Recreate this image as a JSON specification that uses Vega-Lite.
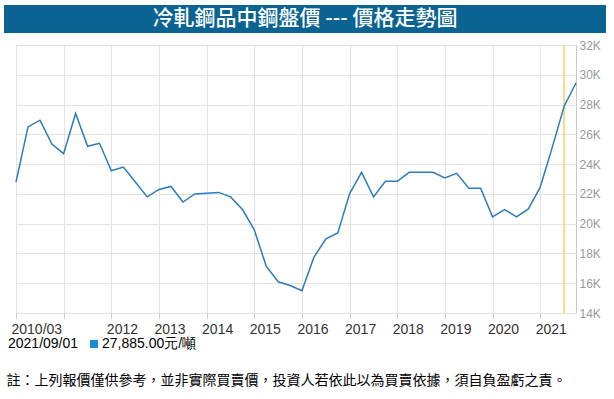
{
  "$schema": "https://vega.github.io/schema/vega-lite/v6.json",
  "padding": {"left": 4, "top": 5, "right": 8, "bottom": 5},
  "background": "white",
  "bounds": "flush",
  "spacing": 12,
  "datasets": {
    "series": [
      {"date": "2010-03-01", "price": 22800},
      {"date": "2010-06-01", "price": 26500},
      {"date": "2010-09-01", "price": 26950},
      {"date": "2010-12-01", "price": 25350},
      {"date": "2011-03-01", "price": 24700},
      {"date": "2011-06-01", "price": 27400},
      {"date": "2011-09-01", "price": 25200},
      {"date": "2011-12-01", "price": 25400},
      {"date": "2012-03-01", "price": 23550},
      {"date": "2012-06-01", "price": 23800},
      {"date": "2012-09-01", "price": 22800},
      {"date": "2012-12-01", "price": 21800},
      {"date": "2013-03-01", "price": 22300},
      {"date": "2013-06-01", "price": 22500},
      {"date": "2013-09-01", "price": 21450},
      {"date": "2013-12-01", "price": 22000},
      {"date": "2014-03-01", "price": 22050},
      {"date": "2014-06-01", "price": 22100},
      {"date": "2014-09-01", "price": 21800},
      {"date": "2014-12-01", "price": 20950},
      {"date": "2015-03-01", "price": 19600},
      {"date": "2015-06-01", "price": 17150},
      {"date": "2015-09-01", "price": 16100},
      {"date": "2015-12-01", "price": 15850},
      {"date": "2016-03-01", "price": 15500},
      {"date": "2016-06-01", "price": 17750},
      {"date": "2016-09-01", "price": 18980},
      {"date": "2016-12-01", "price": 19380},
      {"date": "2017-03-01", "price": 22000},
      {"date": "2017-06-01", "price": 23450},
      {"date": "2017-09-01", "price": 21800},
      {"date": "2017-12-01", "price": 22850},
      {"date": "2018-03-01", "price": 22850},
      {"date": "2018-06-01", "price": 23450},
      {"date": "2018-09-01", "price": 23450},
      {"date": "2018-12-01", "price": 23450},
      {"date": "2019-03-01", "price": 23070},
      {"date": "2019-06-01", "price": 23380},
      {"date": "2019-09-01", "price": 22380},
      {"date": "2019-12-01", "price": 22380},
      {"date": "2020-03-01", "price": 20460},
      {"date": "2020-06-01", "price": 20950},
      {"date": "2020-09-01", "price": 20460},
      {"date": "2020-12-01", "price": 20990},
      {"date": "2021-03-01", "price": 22440},
      {"date": "2021-06-01", "price": 25090},
      {"date": "2021-09-01", "price": 27885},
      {"date": "2021-12-01", "price": 29450}
    ],
    "readout": [
      {"date": "2021-09-01", "price": 27885, "label": "27,885.00元/噸"}
    ]
  },
  "vconcat": [
    {
      "width": 602,
      "height": 28,
      "view": {"fill": "#0b6391", "stroke": null},
      "data": {"values": [{"title": "冷軋鋼品中鋼盤價 --- 價格走勢圖"}]},
      "mark": {"type": "text", "color": "white", "font": "Noto Sans CJK TC", "fontSize": 21, "fontWeight": 500, "baseline": "middle", "align": "center"},
      "encoding": {"text": {"field": "title"}}
    },
    {
      "bounds": "flush",
      "spacing": 0,
      "hconcat": [
        {
          "width": 12,
          "height": 268,
          "view": {"stroke": null},
          "data": {"values": [{"t": ""}]},
          "mark": {"type": "text"},
          "encoding": {"text": {"field": "t"}}
        },
        {
          "width": 560,
          "height": 268,
          "view": {"stroke": "#c8c8c8"},
          "encoding": {
            "x": {
              "field": "date",
              "type": "temporal",
              "scale": {
                "type": "utc",
                "domain": [
                  {"year": 2010, "month": 3, "date": 1, "utc": true},
                  {"year": 2021, "month": 12, "date": 1, "utc": true}
                ]
              },
              "axis": {
                "values": [
                  {"year": 2010, "month": 3, "date": 1, "utc": true},
                  {"year": 2011, "month": 3, "date": 1, "utc": true},
                  {"year": 2012, "month": 3, "date": 1, "utc": true},
                  {"year": 2013, "month": 3, "date": 1, "utc": true},
                  {"year": 2014, "month": 3, "date": 1, "utc": true},
                  {"year": 2015, "month": 3, "date": 1, "utc": true},
                  {"year": 2016, "month": 3, "date": 1, "utc": true},
                  {"year": 2017, "month": 3, "date": 1, "utc": true},
                  {"year": 2018, "month": 3, "date": 1, "utc": true},
                  {"year": 2019, "month": 3, "date": 1, "utc": true},
                  {"year": 2020, "month": 3, "date": 1, "utc": true},
                  {"year": 2021, "month": 3, "date": 1, "utc": true}
                ],
                "labelExpr": "utcFormat(datum.value, '%Y') == '2010' ? '2010/03' : (utcFormat(datum.value, '%Y') == '2011' ? '' : utcFormat(datum.value, '%Y'))",
                "grid": true,
                "gridColor": "#e3e3e3",
                "domain": false,
                "ticks": true,
                "tickColor": "#c8c8c8",
                "tickSize": 5,
                "labelAlign": "left",
                "labelBaseline": "top",
                "labelOffset": -5,
                "labelFlush": false,
                "labelOverlap": false,
                "labelFont": "Liberation Sans",
                "labelFontSize": 14,
                "labelColor": "#333333",
                "labelPadding": 4,
                "title": "註：上列報價僅供參考，並非實際買賣價，投資人若依此以為買賣依據，須自負盈虧之責。",
                "titleX": -10,
                "titleY": 67,
                "titleAnchor": "start",
                "titleAlign": "left",
                "titleBaseline": "middle",
                "titleFont": "Noto Sans CJK TC",
                "titleFontSize": 14,
                "titleFontWeight": "normal",
                "titleColor": "#000000"
              }
            },
            "y": {
              "field": "price",
              "type": "quantitative",
              "scale": {"domain": [14000, 32000], "nice": false, "zero": false},
              "axis": {
                "orient": "right",
                "values": [14000, 16000, 18000, 20000, 22000, 24000, 26000, 28000, 30000, 32000],
                "labelExpr": "(datum.value / 1000) + 'K'",
                "grid": true,
                "gridColor": "#e3e3e3",
                "domain": false,
                "ticks": false,
                "labelPadding": 3,
                "labelColor": "#999999",
                "labelFont": "Liberation Sans",
                "labelFontSize": 12,
                "title": null
              }
            }
          },
          "layer": [
            {
              "data": {"name": "readout"},
              "mark": {"type": "rule", "color": "#f0de86", "strokeWidth": 2},
              "encoding": {"y": null}
            },
            {
              "data": {"name": "series"},
              "mark": {"type": "line", "color": "#2b7cbd", "strokeWidth": 1.5}
            },
            {
              "data": {"name": "readout"},
              "mark": {"type": "point", "filled": true, "opacity": 0, "shape": "square"},
              "encoding": {
                "fill": {
                  "field": "label",
                  "type": "nominal",
                  "scale": {"range": ["#1a8ae0"]},
                  "legend": {
                    "orient": "none",
                    "legendX": 4,
                    "legendY": 332,
                    "title": "2021/09/01",
                    "titleOrient": "left",
                    "titleFont": "Liberation Sans",
                    "titleFontSize": 14,
                    "titleFontWeight": "normal",
                    "titleColor": "#000000",
                    "titlePadding": 8,
                    "titleBaseline": "middle",
                    "labelFont": "Liberation Sans",
                    "labelFontSize": 14,
                    "labelColor": "#000000",
                    "labelOffset": 1,
                    "symbolType": "square",
                    "symbolSize": 64,
                    "symbolOpacity": 1,
                    "symbolStrokeWidth": 0,
                    "padding": 0
                  }
                }
              }
            }
          ]
        }
      ]
    }
  ]
}
